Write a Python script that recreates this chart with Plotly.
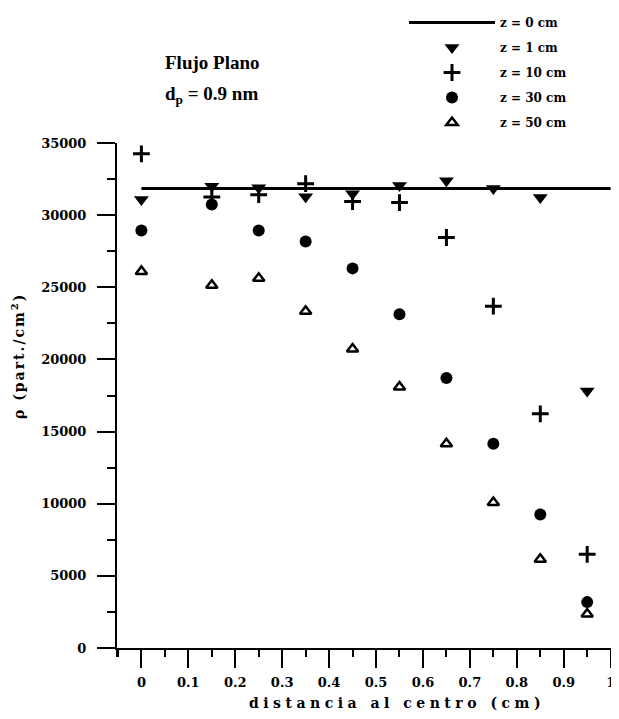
import plotly.graph_objects as go

# ---- data ----
x_pos = [0, 0.15, 0.25, 0.35, 0.45, 0.55, 0.65, 0.75, 0.85, 0.95]
z0_x = [0, 1]
z0_y = [31850, 31850]
z1 = [31080, 32000, 31900, 31280, 31490, 32050, 32390, 31840, 31220, 17820]
z10 = [34250, 31250, 31420, 32180, 30940, 30870, 28450, 23690, 16230, 6490]
z30 = [28940, 30730, 28940, 28180, 26310, 23135, 18715, 14160, 9250, 3180]
z50 = [26100, 25140, 25620, 23340, 20720, 18090, 14160, 10080, 6150, 2350]
x_ticks = [0, 0.1, 0.2, 0.3, 0.4, 0.5, 0.6, 0.7, 0.8, 0.9, 1]
x_ticklabels = ["0", "0.1", "0.2", "0.3", "0.4", "0.5", "0.6", "0.7", "0.8", "0.9", "1"]
y_ticks = [0, 5000, 10000, 15000, 20000, 25000, 30000, 35000]

FONT = "DejaVu Serif"
TFONT = "Liberation Serif"
OFF = 8                      # page body margin
W, H = 619 - OFF, 719 - OFF
L, R, T, B = 117 - OFF, 6, 143 - OFF, 71
PW, PH = W - L - R, H - T - B


def px(xp):   # page x pixel -> paper fraction
    return (xp - OFF - L) / PW


def py(yp):   # page y pixel -> paper fraction
    return 1 - (yp - OFF - T) / PH


fig = go.Figure()
fig.add_trace(go.Scatter(x=z0_x, y=z0_y, mode="lines", name="z = 0 cm",
                         line=dict(color="black", width=3), legendgroup="a"))
fig.add_trace(go.Scatter(x=x_pos, y=z1, mode="markers", name="z = 1 cm", legendgroup="b",
                         marker=dict(symbol="triangle-down", size=13, color="black")))
fig.add_trace(go.Scatter(x=x_pos, y=z10, mode="markers", name="z = 10 cm", legendgroup="c",
                         marker=dict(symbol="cross-thin", size=12, color="black",
                                     line=dict(color="black", width=3))))
fig.add_trace(go.Scatter(x=x_pos, y=z30, mode="markers", name="z = 30 cm", legendgroup="d",
                         marker=dict(symbol="circle", size=12, color="black")))
fig.add_trace(go.Scatter(x=x_pos, y=z50, mode="markers", name="z = 50 cm", legendgroup="e",
                         marker=dict(symbol="triangle-up-open", size=10, color="black",
                                     line=dict(color="black", width=2.5))))

fig.update_layout(
    width=W, height=H,
    margin=dict(l=L, r=R, t=T, b=B),
    paper_bgcolor="white", plot_bgcolor="white",
    font=dict(family=FONT, color="black", size=13),
    showlegend=True,
    legend=dict(x=px(404), y=1, yref="container",
                xanchor="left", yanchor="top",
                font=dict(family=FONT, size=12, color="black", weight="bold"),
                itemwidth=86, tracegroupgap=6, bgcolor="rgba(0,0,0,0)"),
    xaxis=dict(range=[-0.052, 1.005], showgrid=False, zeroline=False, automargin=False,
               showline=True, linecolor="black", linewidth=2,
               ticks="outside", ticklen=18, tickwidth=2, tickcolor="black",
               tickvals=x_ticks, ticktext=x_ticklabels, ticklabelstandoff=3,
               tickfont=dict(family=FONT, size=13, weight="bold"),
               minor=dict(dtick=0.05, tick0=0, ticks="outside", ticklen=7,
                          tickwidth=2, tickcolor="black")),
    yaxis=dict(range=[0, 35000], showgrid=False, zeroline=False, automargin=False,
               showline=True, linecolor="black", linewidth=2,
               ticks="outside", ticklen=18, tickwidth=2, tickcolor="black",
               tickvals=y_ticks, tickformat="d", ticklabelstandoff=8,
               tickfont=dict(family=FONT, size=13, weight="bold"),
               minor=dict(dtick=2500, tick0=0, ticks="outside", ticklen=8,
                          tickwidth=2, tickcolor="black")),
)

# axis line overhangs at the origin corner
fig.add_shape(type="line", xref="paper", yref="paper", x0=px(98), x1=0, y0=0, y1=0,
              line=dict(color="black", width=2))
fig.add_shape(type="line", xref="paper", yref="paper", x0=0, x1=0, y0=py(657), y1=0,
              line=dict(color="black", width=2))

# x axis title
fig.add_annotation(xref="paper", yref="paper", x=px(397), y=py(703),
                   text='<span style="letter-spacing:4.5px">distancia al centro (cm)</span>',
                   showarrow=False, xanchor="center", yanchor="middle",
                   font=dict(family=FONT, size=14, weight="bold", color="black"))
# y axis title
fig.add_annotation(xref="paper", yref="paper", x=px(18), y=py(356),
                   text='<span style="letter-spacing:2px">ρ (part./cm<sup>2</sup>)</span>',
                   textangle=-90,
                   showarrow=False, xanchor="center", yanchor="middle",
                   font=dict(family=FONT, size=14, weight="bold", color="black"))
# chart title (two lines)
fig.add_annotation(xref="paper", yref="paper", x=px(212), y=py(62),
                   text="Flujo Plano", showarrow=False,
                   font=dict(family=TFONT, size=19, weight="bold", color="black"),
                   xanchor="center", yanchor="middle")
fig.add_annotation(xref="paper", yref="paper", x=px(211), y=py(95),
                   text="d<sub>p</sub> = 0.9 nm", showarrow=False,
                   font=dict(family=TFONT, size=19, weight="bold", color="black"),
                   xanchor="center", yanchor="middle")

fig.write_html("out.html")
